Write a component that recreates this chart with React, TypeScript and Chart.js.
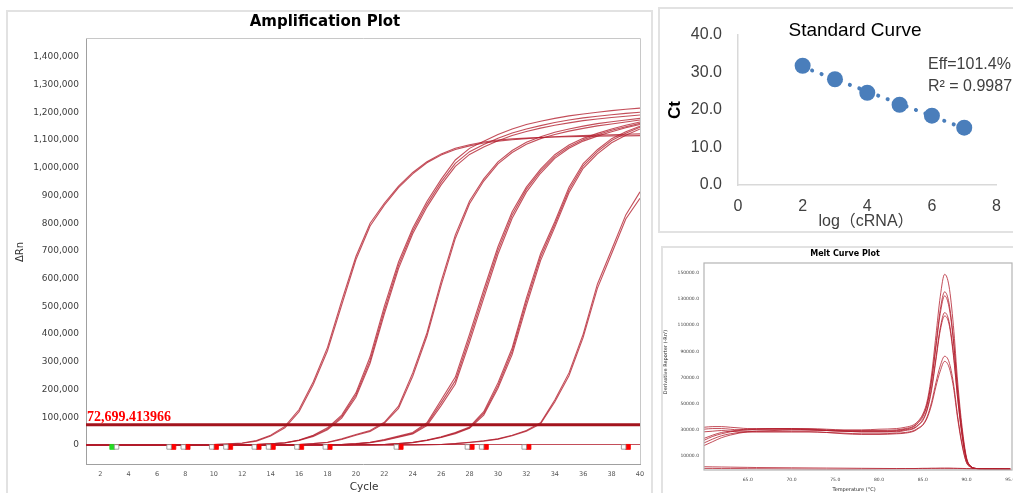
import React, { useEffect, useRef } from "react";
import { Chart, registerables } from "chart.js";
Chart.register(...registerables);

// ---------------- Amplification plot data (ΔRn in thousands) ----------------
const ampCycles = [1,2,3,4,5,6,7,8,9,10,11,12,13,14,15,16,17,18,19,20,21,22,23,24,25,26,27,28,29,30,31,32,33,34,35,36,37,38,39,40];
const ampXTicks = [2,4,6,8,10,12,14,16,18,20,22,24,26,28,30,32,34,36,38,40];
const ampYTicksK = [0,100,200,300,400,500,600,700,800,900,1000,1100,1200,1300,1400];
const thresholdK = 72.699413966;
const thresholdLabel = "72,699.413966";

const ampA1 = [0,0,0,0,0,0,0,1,1,2, 3,6,14,32,62,120,218,340,505,668, 790,865,928,978,1018,1046,1066,1079,1089,1096, 1101,1105,1109,1112,1114,1116,1118,1119,1121,1122];
const ampA2 = [0,0,0,0,0,0,0,1,1,2, 4,7,16,35,67,128,228,352,520,680, 800,872,934,983,1022,1050,1070,1083,1093,1100, 1104,1107,1109,1111,1112,1113,1114,1115,1115,1116];
const ampB1 = [0,0,0,0,0,0,0,0,0,0, 1,1,2,4,8,18,35,62,108,188, 318,500,660,782,878,958,1028,1070,1096,1120, 1140,1156,1168,1178,1187,1194,1200,1206,1211,1215];
const ampB2 = [0,0,0,0,0,0,0,0,0,0, 1,1,2,4,8,17,33,58,102,180, 305,485,648,772,868,948,1016,1058,1084,1106, 1125,1140,1152,1163,1172,1180,1186,1191,1196,1200];
const ampB3 = [0,0,0,0,0,0,0,0,0,0, 1,1,2,4,7,16,31,55,97,172, 295,472,636,762,858,938,1005,1048,1075,1097, 1116,1131,1143,1153,1162,1170,1176,1181,1186,1190];
const ampC1 = [0,0,0,0,0,0,0,0,0,0, 0,0,0,1,1,2,5,10,22,38, 52,82,140,260,404,590,758,880,960,1021, 1062,1092,1112,1128,1140,1150,1159,1166,1172,1178];
const ampC2 = [0,0,0,0,0,0,0,0,0,0, 0,0,0,1,1,2,5,9,20,35, 49,78,132,248,392,576,745,870,952,1014, 1055,1085,1105,1120,1132,1142,1151,1158,1165,1172];
const ampD1 = [0,0,0,0,0,0,0,0,0,0, 0,0,0,0,0,0,1,1,2,5, 10,20,32,45,80,162,245,400,560,715, 841,930,995,1047,1082,1106,1124,1140,1153,1165];
const ampD2 = [0,0,0,0,0,0,0,0,0,0, 0,0,0,0,0,0,1,1,2,4, 9,18,30,42,75,152,232,385,545,702, 830,922,988,1040,1076,1101,1119,1135,1148,1160];
const ampD3 = [0,0,0,0,0,0,0,0,0,0, 0,0,0,0,0,0,1,1,2,4, 8,16,28,40,70,142,220,370,530,688, 818,912,980,1034,1070,1096,1114,1130,1144,1156];
const ampE1 = [0,0,0,0,0,0,0,0,0,0, 0,0,0,0,0,0,0,0,0,1, 1,2,5,10,18,30,45,65,120,224, 350,530,690,805,930,1015,1065,1105,1130,1150];
const ampE2 = [0,0,0,0,0,0,0,0,0,0, 0,0,0,0,0,0,0,0,0,1, 1,2,5,9,17,28,43,62,114,214, 338,516,678,795,920,1007,1058,1098,1124,1146];
const ampE3 = [0,0,0,0,0,0,0,0,0,0, 0,0,0,0,0,0,0,0,0,1, 1,2,4,8,16,27,41,60,108,205, 326,502,665,785,910,998,1050,1090,1117,1140];
const ampF1 = [0,0,0,0,0,0,0,0,0,0, 0,0,0,0,0,0,0,0,0,0, 0,0,0,0,1,2,5,10,15,22, 35,52,80,162,260,400,580,704,830,913];
const ampF2 = [0,0,0,0,0,0,0,0,0,0, 0,0,0,0,0,0,0,0,0,0, 0,0,0,0,1,2,5,9,14,21, 33,50,76,155,250,388,565,690,815,890];
const ampNtc = [1,1,1,1,1,1,1,1,1,1, 1,1,1,1,1,1,1,1,1,1, 2,2,2,2,2,2,2,2,2,2, 2,2,2,2,2,2,2,2,2,2];
const ampCurves = [ampA1, ampA2, ampB1, ampB2, ampB3, ampC1, ampC2, ampD1, ampD2, ampD3, ampE1, ampE2, ampE3, ampF1, ampF2, ampNtc];

const markerLevelK = -7;
const markerGreen = [2.85];
const markerWhite = [3.15, 6.85, 7.85, 9.85, 10.85, 12.85, 13.85, 15.85, 17.85, 22.85, 27.85, 28.85, 31.85, 38.85];
const markerRed = [7.15, 8.15, 10.15, 11.15, 13.15, 14.15, 16.15, 18.15, 23.15, 28.15, 29.15, 32.15, 39.15];

// ---------------- Standard curve data ----------------
const stdLog = [2, 3, 4, 5, 6, 7];
const stdCt = [31.8, 28.2, 24.6, 21.4, 18.5, 15.3];
const trendLog = [2, 7];
const trendCt = [31.5, 15.1];
const stdXTicks = [0, 2, 4, 6, 8];
const stdYTicks = [0, 10, 20, 30, 40];
const stdEff = "Eff=101.4%";
const stdR2 = "R\u00B2 = 0.9987";

// ---------------- Melt curve data (-Rn' in thousands) ----------------
const meltTemps = [60,61,62,63,64,65,66,68,70,72, 74,76,78,80,82,83,84,84.5,85,85.5, 86,86.5,87,87.5,88,88.5,89,89.5,90,90.5, 91,92,93,95];
const meltM1 = [22,25,27,28.5,29.5,30,30.5,31,31,31, 30.5,30,30,30.5,31,32,34,37,42,52, 72,102,132,149,140,110,66,32,9,2, 0.5,0.2,0.1,0];
const meltM2 = [32,32.5,32.5,32,31.5,31,31,31,31,30.5, 30,29.5,29.5,29.5,30,31,33,36,41,50, 68,95,122,135.6,127,100,60,29,8,2, 0.5,0.2,0.1,0];
const meltM3 = [18,21,24,26,27.5,28.5,29,29.5,30,30, 29.5,29,29,29,29.5,30.5,32.5,35.5,40,49, 67,93,119,132.5,124,98,59,28,8,2, 0.5,0.2,0.1,0];
const meltM4 = [23.5,26,28,29,30,30.5,30.5,30.5,30.5,30, 29.5,29,28.5,28.5,29,30,31.5,34,38,46, 62,85,108,119.7,113,89,54,26,7,2, 0.5,0.2,0.1,0];
const meltM5 = [30.5,31,31,30.5,30,30,30,30,30,30, 29.5,29,28.5,28.5,28.5,29.5,31,33.5,37,45, 60,83,106,117.1,111,87,53,25,7,2, 0.5,0.2,0.1,0];
const meltM6 = [20,23,25.5,27,28,28.5,28.5,28.5,28.5,28.5, 28,27.5,27,27,27.5,28,29.5,31.5,34,40, 51,66,79,86.3,82,66,40,19,5,1.5, 0.5,0.2,0.1,0];
const meltM7 = [28.5,29,29.5,29,28.5,28.5,28.5,28.5,28.5,28.5, 28,27,26.5,26.5,27,27.5,29,31,33.5,39, 49,63,75,82.4,78,63,38,18,5,1.5, 0.5,0.2,0.1,0];
const meltN1 = [1.8,1.7,1.6,1.5,1.4,1.3,1.2,1.1,1.0,0.9, 0.8,0.7,0.6,0.5,0.4,0.4,0.3,0.3,0.3,0.3, 0.3,0.3,0.3,0.3,0.3,0.3,0.3,0.3,0.2,0.2, 0.2,0.1,0.1,0];
const meltN2 = [0.5,0.5,0.4,0.4,0.4,0.3,0.3,0.2,0.1,0, -0.1,-0.1,0,0.1,0.2,0.3,0.4,0.5,0.6,0.6, 0.7,0.7,0.8,0.8,0.8,0.7,0.6,0.5,0.4,0.3, 0.2,0.1,0,-0.2];
const meltCurves = [meltM1, meltM2, meltM3, meltM4, meltM5, meltM6, meltM7, meltN1, meltN2];
const meltXTicks = [65, 70, 75, 80, 85, 90, 95];
const meltYTicksK = [10, 30, 50, 70, 90, 110, 130, 150];

// ---------------- helpers ----------------
const DEJAVU = "'DejaVu Sans', sans-serif";
const ARIAL = "'Liberation Sans', Arial, sans-serif";
const CURVE = "rgba(178, 28, 44, 0.78)";
const BLUE = "#4a7ebb";

type TextItem = {
  text: string; x: number; y: number; font: string; color: string;
  align?: CanvasTextAlign; baseline?: CanvasTextBaseline; rotate?: number;
};

function textPlugin(id: string, items: TextItem[]) {
  return {
    id,
    afterDraw(chart: any) {
      const ctx = chart.ctx as CanvasRenderingContext2D;
      for (const it of items) {
        ctx.save();
        ctx.translate(it.x, it.y);
        if (it.rotate) ctx.rotate(it.rotate);
        ctx.font = it.font;
        ctx.fillStyle = it.color;
        ctx.textAlign = it.align || "center";
        ctx.textBaseline = it.baseline || "middle";
        ctx.fillText(it.text, 0, 0);
        ctx.restore();
      }
    },
  };
}

function setTicks(values: number[]) {
  return (scale: any) => {
    scale.ticks = values.map((v) => ({ value: v }));
  };
}

const baseOptions = {
  animation: false,
  responsive: false,
  devicePixelRatio: 1,
  events: [],
  plugins: { legend: { display: false }, tooltip: { enabled: false }, title: { display: false } },
};

function ampConfig(): any {
  const curves = ampCurves.map((arr) => ({
    data: ampCycles.map((c, j) => ({ x: c, y: arr[j] })),
    showLine: true,
    pointRadius: 0,
    borderColor: CURVE,
    borderWidth: 1.1,
    tension: 0,
    order: 3,
  }));
  const threshold = {
    data: [{ x: ampCycles[0], y: thresholdK }, { x: ampCycles[ampCycles.length - 1], y: thresholdK }],
    showLine: true,
    pointRadius: 0,
    borderColor: "#a3141d",
    borderWidth: 3,
    order: 1,
  };
  const mk = (xs: number[], fill: string, border: string, r: number) => ({
    data: xs.map((x) => ({ x, y: markerLevelK })),
    showLine: false,
    pointStyle: "rect",
    pointRadius: r,
    backgroundColor: fill,
    borderColor: border,
    borderWidth: 0.8,
    order: 0,
  });
  const frame = {
    id: "ampFrame",
    afterDraw(chart: any) {
      const { left, top, right, bottom } = chart.chartArea;
      const ctx = chart.ctx as CanvasRenderingContext2D;
      ctx.save();
      ctx.strokeStyle = "#c8c8c8";
      ctx.lineWidth = 1;
      ctx.beginPath();
      ctx.moveTo(left, top + 0.5);
      ctx.lineTo(right + 0.5, top + 0.5);
      ctx.lineTo(right + 0.5, bottom);
      ctx.stroke();
      ctx.restore();
    },
  };
  return {
    type: "scatter",
    data: {
      datasets: [
        ...curves,
        threshold,
        mk(markerWhite, "#ffffff", "#8a8a8a", 3.2),
        mk(markerRed, "#ff0000", "#ff0000", 3.5),
        mk(markerGreen, "#22dd22", "#22dd22", 3.5),
      ],
    },
    options: {
      ...baseOptions,
      layout: { padding: { left: 0, top: 38, right: 15, bottom: 0 } },
      scales: {
        x: {
          type: "linear", min: 1, max: 40,
          afterFit: (s: any) => { s.height = 29; },
          afterBuildTicks: setTicks(ampXTicks),
          grid: { display: false, drawTicks: false },
          border: { display: true, color: "#a0a0a0", width: 1 },
          ticks: { padding: 6, autoSkip: false, maxRotation: 0, color: "#555", font: { family: DEJAVU, size: 6.5 }, callback: (v: any) => String(v) },
        },
        y: {
          type: "linear", min: -68.6, max: 1468,
          afterFit: (s: any) => { s.width = 86; },
          afterBuildTicks: setTicks(ampYTicksK),
          grid: { display: false, drawTicks: false },
          border: { display: true, color: "#a0a0a0", width: 1 },
          ticks: { padding: 7, autoSkip: false, color: "#3c3c3c", font: { family: DEJAVU, size: 9 }, callback: (v: any) => (Number(v) * 1000).toLocaleString("en-US") },
        },
      },
    },
    plugins: [
      frame,
      textPlugin("ampText", [
        { text: "Amplification Plot", x: 325, y: 22, font: `bold 15px ${DEJAVU}`, color: "#000" },
        { text: "\u0394Rn", x: 20, y: 252, font: `10px ${DEJAVU}`, color: "#333", rotate: -Math.PI / 2 },
        { text: "Cycle", x: 364, y: 487, font: `10.5px ${DEJAVU}`, color: "#333" },
        { text: thresholdLabel, x: 87, y: 421, font: "bold 14px 'Liberation Serif', serif", color: "#ff0000", align: "left", baseline: "alphabetic" },
      ]),
    ],
  };
}

function stdConfig(): any {
  return {
    type: "scatter",
    data: {
      datasets: [
        {
          data: stdLog.map((x, i) => ({ x, y: stdCt[i] })),
          pointRadius: 8,
          backgroundColor: BLUE,
          borderWidth: 0,
          showLine: false,
          order: 0,
        },
        {
          data: trendLog.map((x, i) => ({ x, y: trendCt[i] })),
          showLine: true,
          pointRadius: 0,
          borderColor: BLUE,
          borderWidth: 4,
          borderDash: [0.1, 10],
          borderCapStyle: "round",
          order: 1,
        },
      ],
    },
    options: {
      ...baseOptions,
      layout: { padding: { left: 0, top: 35, right: 16, bottom: 0 } },
      scales: {
        x: {
          type: "linear", min: 0, max: 8,
          afterFit: (s: any) => { s.height = 55; },
          afterBuildTicks: setTicks(stdXTicks),
          grid: { display: false, drawTicks: false },
          border: { display: true, color: "#d9d9d9", width: 1.5 },
          ticks: { padding: 12, autoSkip: false, maxRotation: 0, color: "#404040", font: { family: ARIAL, size: 16 }, callback: (v: any) => String(v) },
        },
        y: {
          type: "linear", min: 0, max: 40,
          afterFit: (s: any) => { s.width = 83; },
          afterBuildTicks: setTicks(stdYTicks),
          grid: { display: false, drawTicks: false },
          border: { display: true, color: "#d9d9d9", width: 1.5 },
          ticks: { padding: 16, autoSkip: false, color: "#404040", font: { family: ARIAL, size: 16 }, callback: (v: any) => Number(v).toFixed(1) },
        },
      },
    },
    plugins: [
      textPlugin("stdText", [
        { text: "Standard Curve", x: 200, y: 31, font: `19px ${ARIAL}`, color: "#000" },
        { text: stdEff, x: 273, y: 65, font: `16px ${ARIAL}`, color: "#404040", align: "left" },
        { text: stdR2, x: 273, y: 87, font: `16px ${ARIAL}`, color: "#404040", align: "left" },
        { text: "Ct", x: 20, y: 110, font: `bold 17px ${ARIAL}`, color: "#000", rotate: -Math.PI / 2 },
        { text: "log\uFF08cRNA\uFF09", x: 211, y: 222, font: `16px 'Liberation Sans', 'Noto Sans CJK TC', sans-serif`, color: "#404040" },
      ]),
    ],
  };
}

function meltConfig(): any {
  const frame = {
    id: "meltFrame",
    afterDraw(chart: any) {
      const { left, top, right, bottom } = chart.chartArea;
      const ctx = chart.ctx as CanvasRenderingContext2D;
      ctx.save();
      ctx.strokeStyle = "#b4b4b4";
      ctx.lineWidth = 1.2;
      ctx.strokeRect(left, top, right - left, bottom - top);
      ctx.restore();
    },
  };
  return {
    type: "scatter",
    data: {
      datasets: meltCurves.map((arr) => ({
        data: meltTemps.map((t, j) => ({ x: t, y: arr[j] })),
        showLine: true,
        pointRadius: 0,
        borderColor: CURVE,
        borderWidth: 1,
        cubicInterpolationMode: "monotone",
      })),
    },
    options: {
      ...baseOptions,
      layout: { padding: { left: 0, top: 16, right: 30, bottom: 0 } },
      scales: {
        x: {
          type: "linear", min: 60, max: 95.2,
          afterFit: (s: any) => { s.height = 23; },
          afterBuildTicks: setTicks(meltXTicks),
          grid: { display: false, drawTicks: false },
          border: { display: false },
          ticks: { padding: 7, autoSkip: false, maxRotation: 0, color: "#444", font: { family: DEJAVU, size: 4.5 }, callback: (v: any) => Number(v).toFixed(1) },
        },
        y: {
          type: "linear", min: -0.7, max: 157.65,
          afterFit: (s: any) => { s.width = 42; },
          afterBuildTicks: setTicks(meltYTicksK),
          grid: { display: false, drawTicks: false },
          border: { display: false },
          ticks: { padding: 5, autoSkip: false, color: "#444", font: { family: DEJAVU, size: 4.5 }, callback: (v: any) => (Number(v) * 1000).toFixed(1) },
        },
      },
    },
    plugins: [
      frame,
      textPlugin("meltText", [
        { text: "Melt Curve Plot", x: 183, y: 7, font: `bold 8px ${DEJAVU}`, color: "#000" },
        { text: "Temperature (\u00B0C)", x: 192, y: 243, font: `5px ${DEJAVU}`, color: "#222" },
        { text: "Derivative Reporter (-Rn')", x: 4, y: 115, font: `5px ${DEJAVU}`, color: "#222", rotate: -Math.PI / 2 },
      ]),
    ],
  };
}

export default function App() {
  const ampRef = useRef<HTMLCanvasElement>(null);
  const stdRef = useRef<HTMLCanvasElement>(null);
  const meltRef = useRef<HTMLCanvasElement>(null);

  useEffect(() => {
    const charts: Chart[] = [];
    if (ampRef.current) charts.push(new Chart(ampRef.current, ampConfig()));
    if (stdRef.current) charts.push(new Chart(stdRef.current, stdConfig()));
    if (meltRef.current) charts.push(new Chart(meltRef.current, meltConfig()));
    return () => charts.forEach((c) => c.destroy());
  }, []);

  const panel = (left: number, top: number, width: number, height: number): React.CSSProperties => ({
    position: "absolute", left, top, width, height, boxSizing: "border-box", border: "2px solid #e2e2e2",
  });

  return (
    <div style={{ position: "absolute", left: 0, top: 0, width: 1013, height: 493, overflow: "hidden", background: "#fff" }}>
      <div style={panel(6, 10, 647, 500)} />
      <div style={panel(658, 7, 400, 226)} />
      <div style={panel(661, 246, 400, 300)} />
      <canvas ref={ampRef} width={655} height={493} style={{ position: "absolute", left: 0, top: 0 }} />
      <canvas ref={stdRef} width={358} height={240} style={{ position: "absolute", left: 655, top: 0 }} />
      <canvas ref={meltRef} width={380} height={246} style={{ position: "absolute", left: 662, top: 247 }} />
    </div>
  );
}
